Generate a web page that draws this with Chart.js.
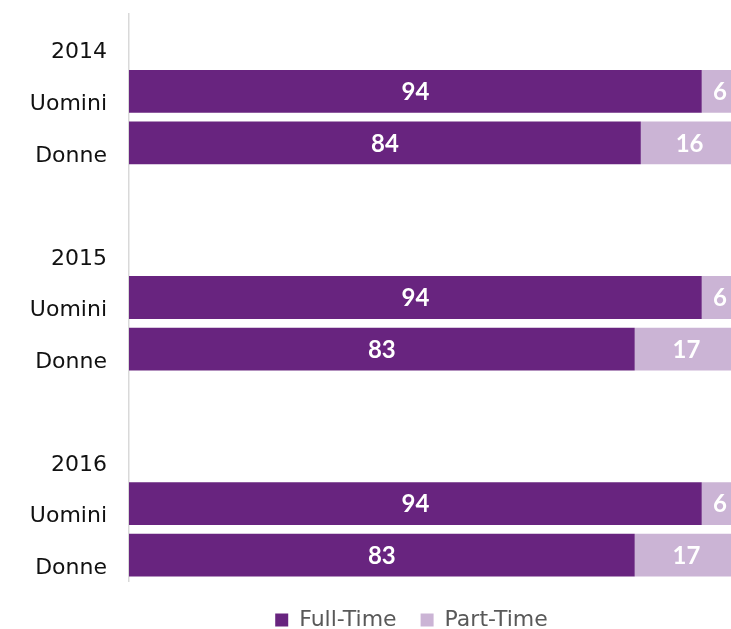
<!DOCTYPE html>
<html>
<head>
<meta charset="utf-8">
<script src="https://cdn.jsdelivr.net/npm/chart.js@4/dist/chart.umd.min.js"></script>
<style>
  html, body { margin: 0; padding: 0; background: #ffffff; }
  #wrap { width: 731px; height: 629px; position: relative; }
</style>
</head>
<body>
<div id="wrap"><canvas id="chart"></canvas></div>
<script>
// Rows: year heading, men, women, spacer — repeated for each year
const categories = ['2014', 'Uomini', 'Donne', '', '2015', 'Uomini', 'Donne', '', '2016', 'Uomini', 'Donne'];
const fullTime = [null, 94, 84, null, null, 94, 83, null, null, 94, 83];
const partTime = [null, 6, 16, null, null, 6, 17, null, null, 6, 17];
const seriesNames = ['Full-Time', 'Part-Time'];

const PURPLE = '#68247f';
const LAVENDER = '#cbb4d5';

// Writes each segment's value in the middle of its bar
const valueLabels = {
  id: 'valueLabels',
  afterDatasetsDraw(chart) {
    const ctx = chart.ctx;
    ctx.save();
    ctx.font = 'bold 24px Lato, "DejaVu Sans", sans-serif';
    ctx.fillStyle = '#ffffff';
    ctx.textAlign = 'center';
    ctx.textBaseline = 'middle';
    chart.data.datasets.forEach((ds, di) => {
      const meta = chart.getDatasetMeta(di);
      meta.data.forEach((bar, i) => {
        const v = ds.data[i];
        if (v === null || v === undefined) return;
        const cx = Math.min((bar.x + bar.base) / 2, chart.chartArea.right + 20);
        ctx.fillText(String(v), cx, bar.y + 1);
      });
    });
    ctx.restore();
  }
};

// Moves the legend row a little right and down under the plot
const legendPlacement = {
  id: 'legendPlacement',
  afterLayout(chart) {
    const lg = chart.legend;
    if (!lg) return;
    const dx = 46, dy = 4;
    lg.left += dx; lg.right += dx;
    lg.top += dy; lg.bottom += dy;
  }
};

new Chart(document.getElementById('chart'), {
  type: 'bar',
  data: {
    labels: categories,
    datasets: [
      { label: seriesNames[0], data: fullTime, backgroundColor: PURPLE, borderWidth: 0 },
      { label: seriesNames[1], data: partTime, backgroundColor: LAVENDER, borderWidth: 0 }
    ]
  },
  options: {
    indexAxis: 'y',
    responsive: true,
    maintainAspectRatio: false,
    animation: false,
    events: [],
    datasets: { bar: { barPercentage: 1, categoryPercentage: 0.83 } },
    layout: { padding: { top: 14, bottom: -8, left: 0, right: 0 } },
    scales: {
      x: {
        stacked: true,
        display: false,
        min: 0,
        max: 98.8
      },
      y: {
        stacked: true,
        grid: { display: false, drawTicks: false },
        border: { display: true, color: '#d9d9d9', width: 1.5 },
        ticks: {
          color: '#111111',
          font: { family: '"DejaVu Sans", sans-serif', size: 22 },
          padding: 22,
          labelOffset: 13,
          autoSkip: false
        },
        afterFit(scale) {
          scale.width = 129;
          scale.paddingTop = 0;
          scale.paddingBottom = 0;
        }
      }
    },
    plugins: {
      legend: {
        position: 'bottom',
        labels: {
          boxWidth: 13,
          boxHeight: 13,
          padding: 24,
          color: '#595959',
          font: { family: '"DejaVu Sans", sans-serif', size: 22 }
        }
      },
      tooltip: { enabled: false }
    }
  },
  plugins: [valueLabels, legendPlacement]
});
</script>
</body>
</html>
